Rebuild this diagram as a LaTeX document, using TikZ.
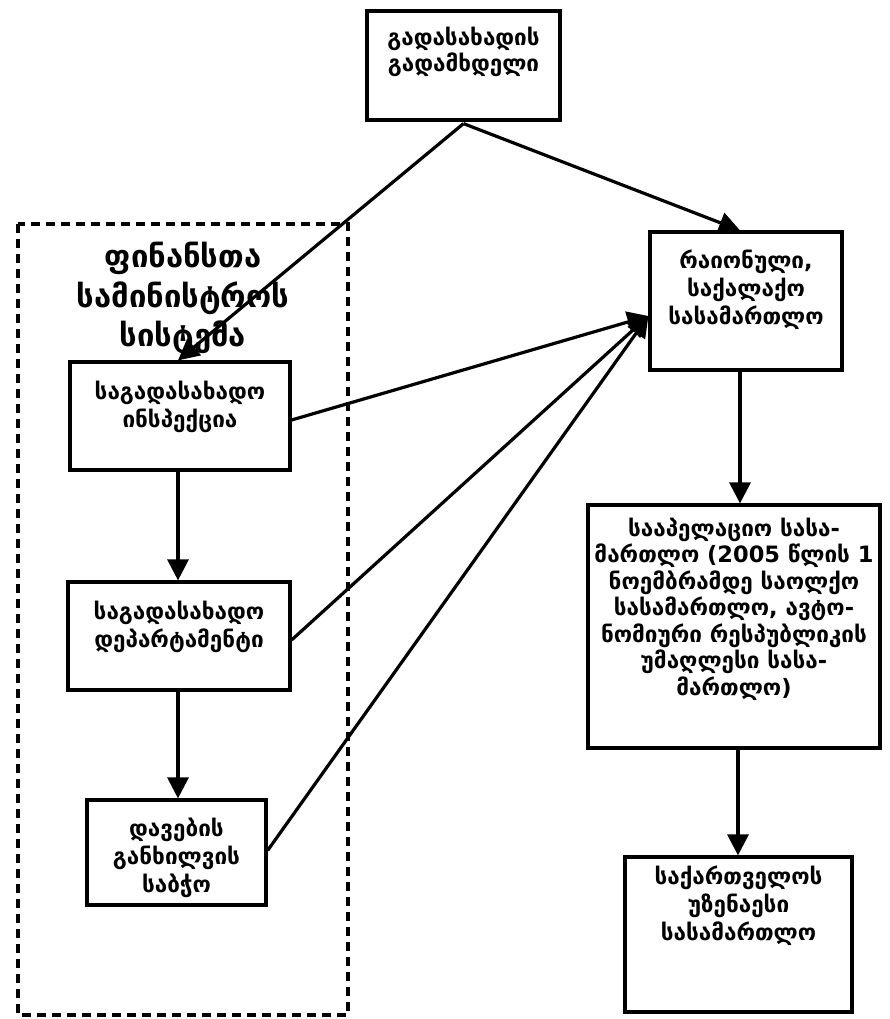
\documentclass[tikz,border=0pt]{standalone}
\usepackage{fontspec}
\newfontfamily\geo{DejaVu Sans}
\usetikzlibrary{arrows.meta,calc}
\tikzset{
  box/.style={draw, line width=3.2pt, inner sep=0pt, rectangle},
  lbl/.style={anchor=north, align=center, inner sep=0pt, font={\geo\bfseries\fontsize{22.5}{28}\selectfont}},
  arr/.style={line width=3.2pt, -{Triangle[length=21pt,width=21pt]}},
  grp/.style={draw, line width=3.2pt, dash pattern=on 9pt off 6pt},
}
\begin{document}
\begin{tikzpicture}[x=1pt,y=-1pt]
\useasboundingbox (0,0) rectangle (890,1019);
\fill[white] (0,0) rectangle (890,1019);
% group
\draw[grp] (18,224) rectangle (348,1015);
\node[lbl, font={\geo\bfseries\fontsize{31}{39.5}\selectfont}] (gt) at (183,242) {ფინანსთა\\სამინისტროს\\სისტემა};
% boxes
\node[box, minimum width=193pt, minimum height=109pt, label={[lbl, yshift=-17pt, font={\geo\bfseries\fontsize{22.5}{26}\selectfont}]north:გადასახადის\\გადამხდელი}] (top) at (463.5,65.5) {};
\node[box, minimum width=192pt, minimum height=138pt, label={[lbl, yshift=-19pt]north:რაიონული,\\საქალაქო\\სასამართლო}] (rk) at (746,301) {};
\node[box, minimum width=220pt, minimum height=108pt, label={[lbl, yshift=-20pt]north:საგადასახადო\\ინსპექცია}] (b1) at (180,416) {};
\node[box, minimum width=222pt, minimum height=108pt, label={[lbl, yshift=-20pt]north:საგადასახადო\\დეპარტამენტი}] (b2) at (179,636) {};
\node[box, minimum width=179pt, minimum height=105pt, label={[lbl, yshift=-19pt]north:დავების\\განხილვის\\საბჭო}] (b3) at (176.5,852.5) {};
\node[box, minimum width=292pt, minimum height=243pt, label={[lbl, yshift=-14pt, font={\geo\bfseries\fontsize{22.5}{26.5}\selectfont}]north:სააპელაციო სასა-\\მართლო (2005 წლის 1\\ნოემბრამდე საოლქო\\სასამართლო, ავტო-\\ნომიური რესპუბლიკის\\უმაღლესი სასა-\\მართლო)}] (ap) at (734,626.5) {};
\node[box, minimum width=227pt, minimum height=155pt, label={[lbl, yshift=-10pt]north:საქართველოს\\უზენაესი\\სასამართლო}] (sc) at (738.5,934.5) {};
% connectors
\coordinate (src) at ($(top.south)+(0,2)$);
\coordinate (conv) at ($(rk.west)+(0,15)$);
\draw[arr] (src) -- (b1.north -| 178,0);
\draw[arr] (src) -- ($(rk.north)+(-6,0)$);
\draw[arr] ($(b1.east)+(0,4)$) -- (conv);
\draw[arr] ($(b2.east)+(0,4)$) -- (conv);
\draw[arr] ($(b3.east)+(0,-2)$) -- (conv);
\draw[arr] (b1.south -| 178,0) -- (b2.north -| 178,0);
\draw[arr] (b2.south -| 178,0) -- (b3.north -| 178,0);
\draw[arr] (rk.south -| 740,0) -- (ap.north -| 740,0);
\draw[arr] (ap.south -| 738,0) -- (sc.north -| 738,0);
\end{tikzpicture}
\end{document}
